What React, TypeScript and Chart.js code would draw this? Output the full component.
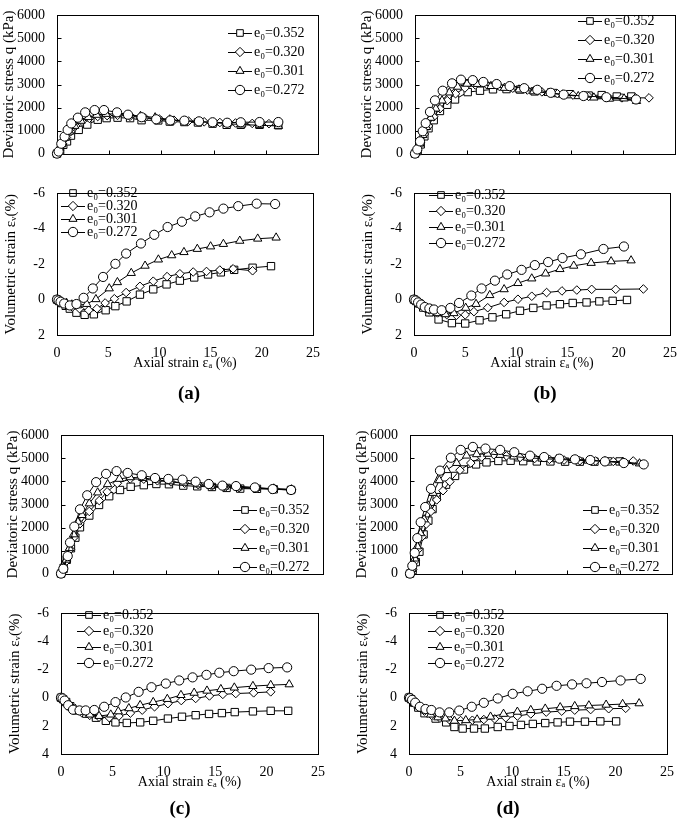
import React, { useEffect, useRef } from "react";
import { Chart, registerables } from "chart.js";

Chart.register(...registerables);

type Pt = [number, number];

// ---------------- data ----------------
const SERIES_LABELS = ["e₀=0.352", "e₀=0.320", "e₀=0.301", "e₀=0.272"];
const X_MIN = 0;
const X_MAX = 25;
const X_STEP = 5;
const Q_MIN = 0;
const Q_MAX = 6000;
const Q_STEP = 1000;
const V_MIN = -6;
const V_STEP = 2;
const X_INNER_TICKS = [5, 10, 15, 20];
const Q_INNER_TICKS = [1000, 2000, 3000, 4000, 5000];

const Q_TITLE = "Deviatoric stress q (kPa)";
const V_TITLE = "Volumetric strain εᵥ(%)";
const X_TITLE = "Axial strain εₐ (%)";
const PANEL_LABELS = ["(a)", "(b)", "(c)", "(d)"];

// (a)
const aQ352: Pt[] = [[0,0],[0.3,130],[0.6,380],[0.96,530],[1.34,780],[2.08,1030],[2.9,1260],[3.9,1470],[4.75,1540],[5.8,1560],[7.0,1540],[8.1,1450],[9.7,1440],[10.8,1390],[12.2,1370],[13.5,1350],[14.9,1300],[16.25,1250],[17.6,1250],[19.4,1250],[21.2,1230]];
const aQ320: Pt[] = [[0,0],[0.25,150],[0.55,420],[0.9,700],[1.3,950],[1.8,1200],[2.4,1400],[3.1,1530],[3.9,1610],[4.8,1650],[5.8,1660],[7.0,1620],[8.4,1560],[9.8,1500],[11.2,1450],[12.6,1410],[14.1,1380],[15.6,1350],[17.1,1330],[18.7,1310],[20.3,1300]];
const aQ301: Pt[] = [[0,0],[0.2,120],[0.45,400],[0.8,680],[1.2,950],[1.7,1200],[2.3,1420],[3.0,1580],[3.8,1680],[4.7,1720],[5.7,1720],[6.9,1680],[8.0,1630],[9.4,1570],[10.8,1480],[12.2,1420],[13.6,1380],[15.0,1340],[16.3,1300],[17.7,1260],[19.4,1230],[21.2,1200]];
const aQ272: Pt[] = [[0,0],[0.16,90],[0.41,430],[0.73,740],[1.02,1030],[1.37,1310],[2.0,1560],[2.7,1790],[3.6,1890],[4.5,1890],[5.75,1790],[6.8,1690],[8.1,1580],[9.5,1490],[10.85,1440],[12.2,1430],[13.6,1400],[14.9,1360],[16.3,1340],[17.6,1360],[19.4,1370],[21.2,1370]];
const aV352: Pt[] = [[0,0],[0.2,0.08],[0.5,0.2],[0.85,0.35],[1.25,0.51],[1.9,0.74],[2.7,0.86],[3.6,0.83],[4.75,0.6],[5.7,0.37],[6.8,0.1],[8.1,-0.28],[9.4,-0.58],[10.7,-0.86],[12.0,-1.07],[13.4,-1.25],[14.75,-1.42],[16.0,-1.54],[17.3,-1.68],[19.1,-1.8],[20.9,-1.89]];
const aV320: Pt[] = [[0,0],[0.2,0.08],[0.5,0.18],[0.9,0.3],[1.5,0.42],[2.2,0.51],[3.1,0.6],[3.9,0.51],[4.7,0.19],[5.6,-0.05],[6.75,-0.4],[8.1,-0.75],[9.4,-1.04],[10.75,-1.3],[12.0,-1.46],[13.3,-1.56],[14.6,-1.59],[15.9,-1.67],[17.2,-1.74],[19.1,-1.63]];
const aV301: Pt[] = [[0,0],[0.2,0.07],[0.5,0.14],[0.93,0.19],[1.45,0.28],[2.0,0.33],[2.9,0.25],[3.8,-0.02],[5.1,-0.63],[5.9,-0.98],[7.25,-1.5],[8.6,-1.91],[9.9,-2.26],[11.2,-2.5],[12.4,-2.68],[13.7,-2.86],[15.0,-3.0],[16.25,-3.14],[17.85,-3.32],[19.6,-3.44],[21.4,-3.5]];
const aV272: Pt[] = [[0,0],[0.15,0.05],[0.35,0.12],[0.7,0.22],[1.25,0.33],[1.9,0.25],[2.6,-0.1],[3.5,-0.63],[4.5,-1.28],[5.7,-2.02],[6.75,-2.6],[8.2,-3.17],[9.5,-3.66],[10.8,-4.1],[12.2,-4.4],[13.5,-4.7],[14.9,-4.93],[16.25,-5.14],[17.7,-5.28],[19.5,-5.42],[21.3,-5.4]];

// (b)
const bQ352: Pt[] = [[0,0],[0.25,110],[0.55,400],[0.9,750],[1.3,1100],[1.8,1450],[2.4,1850],[3.1,2120],[3.85,2350],[5.07,2670],[6.25,2730],[7.5,2790],[8.8,2800],[10.1,2780],[11.5,2700],[13.3,2630],[14.9,2580],[16.7,2520],[17.95,2540],[19.4,2480],[20.8,2480]];
const bQ320: Pt[] = [[0,0],[0.25,150],[0.55,500],[0.9,850],[1.3,1200],[1.8,1600],[2.4,1950],[3.1,2300],[3.9,2600],[4.8,2850],[5.8,2980],[6.9,2990],[8.1,2920],[9.4,2840],[10.8,2760],[12.2,2680],[13.7,2600],[15.2,2540],[16.7,2480],[18.3,2440],[19.9,2420],[21.2,2420],[22.5,2420]];
const bQ301: Pt[] = [[0,0],[0.2,120],[0.45,430],[0.75,800],[1.1,1150],[1.5,1550],[2.0,1950],[2.6,2300],[3.3,2650],[4.1,2900],[5.0,3030],[6.0,3020],[7.3,2930],[8.6,2850],[10.0,2780],[11.4,2700],[12.8,2630],[14.2,2560],[15.7,2490],[17.2,2430],[18.7,2380],[20.1,2390],[21.3,2280]];
const bQ272: Pt[] = [[0,0],[0.22,180],[0.48,530],[0.74,970],[1.03,1320],[1.44,1810],[1.92,2310],[2.66,2730],[3.56,3050],[4.42,3210],[5.55,3190],[6.57,3110],[7.85,3020],[9.1,2930],[10.5,2840],[11.76,2770],[13.05,2640],[14.3,2560],[16.2,2500],[18.4,2450],[21.25,2350]];
const bV352: Pt[] = [[0,0],[0.2,0.08],[0.5,0.22],[0.9,0.45],[1.5,0.72],[2.4,1.12],[3.7,1.33],[5.0,1.35],[6.4,1.17],[7.66,1.0],[9.0,0.83],[10.35,0.63],[11.65,0.47],[12.95,0.33],[14.25,0.26],[15.5,0.19],[16.85,0.16],[18.1,0.1],[19.4,0.07],[20.8,0.02]];
const bV320: Pt[] = [[0,0],[0.2,0.08],[0.5,0.2],[0.9,0.38],[1.5,0.58],[2.3,0.75],[3.2,0.85],[4.15,0.89],[5.0,0.86],[5.85,0.68],[7.2,0.46],[8.8,0.16],[10.15,-0.02],[11.5,-0.19],[12.95,-0.4],[14.45,-0.49],[15.9,-0.54],[17.35,-0.58],[19.7,-0.58],[22.4,-0.6]];
const bV301: Pt[] = [[0,0],[0.2,0.07],[0.5,0.18],[0.9,0.35],[1.47,0.6],[2.27,0.77],[3.07,0.83],[3.9,0.77],[5.05,0.47],[6.06,0.25],[7.4,-0.25],[8.8,-0.58],[10.15,-0.93],[11.5,-1.19],[12.85,-1.47],[14.25,-1.72],[15.6,-1.91],[17.3,-2.07],[19.25,-2.16],[21.2,-2.21]];
const bV272: Pt[] = [[0,0],[0.15,0.05],[0.4,0.16],[0.7,0.28],[1.05,0.42],[1.5,0.5],[1.95,0.56],[2.7,0.6],[3.55,0.47],[4.4,0.19],[5.6,-0.23],[6.6,-0.63],[7.9,-1.07],[9.1,-1.42],[10.5,-1.68],[11.8,-1.95],[13.1,-2.12],[14.5,-2.35],[16.3,-2.56],[18.5,-2.86],[20.5,-3.0]];

// (c)
const cQ352: Pt[] = [[0,0],[0.25,250],[0.55,600],[0.95,1100],[1.37,1560],[1.81,2010],[2.7,2520],[3.63,2980],[4.6,3360],[5.63,3630],[6.65,3770],[7.9,3840],[9.1,3890],[10.3,3880],[11.67,3820],[13.0,3790],[14.4,3760],[15.8,3720],[17.1,3690],[18.7,3680],[20.3,3660],[21.95,3630]];
const cQ320: Pt[] = [[0,0],[0.25,200],[0.55,550],[0.9,1050],[1.3,1600],[1.8,2160],[2.7,2700],[3.65,3170],[4.4,3550],[5.37,3920],[6.6,4110],[7.9,4100],[9.2,4030],[10.5,3980],[11.8,3920],[13.1,3860],[14.4,3800],[15.7,3760],[17.0,3730],[18.7,3700],[20.4,3680],[22.0,3650]];
const cQ301: Pt[] = [[0,0],[0.2,150],[0.5,600],[0.8,1100],[1.2,1700],[1.6,2250],[2.0,2540],[2.7,3045],[3.5,3520],[4.45,3880],[5.57,4110],[6.6,4180],[7.8,4150],[9.1,4080],[10.4,4000],[11.7,3940],[13.0,3870],[14.3,3810],[15.6,3770],[16.9,3740],[18.6,3720],[20.3,3690],[22.0,3650]];
const cQ272: Pt[] = [[0,0],[0.22,210],[0.64,760],[0.86,1350],[1.27,2040],[1.81,2790],[2.5,3400],[3.35,3970],[4.3,4330],[5.3,4450],[6.36,4370],[7.7,4270],[8.97,4150],[10.24,4110],[11.6,4080],[12.85,3990],[14.1,3890],[15.4,3820],[16.7,3800],[18.5,3740],[20.2,3670],[21.95,3630]];
const cV352: Pt[] = [[0,0],[0.2,0.1],[0.5,0.3],[0.9,0.6],[1.5,0.9],[2.45,1.13],[3.4,1.42],[4.36,1.64],[5.3,1.75],[6.4,1.79],[7.7,1.75],[8.97,1.64],[10.4,1.48],[11.77,1.35],[13.1,1.24],[14.4,1.15],[15.65,1.09],[16.9,1.02],[18.67,0.97],[20.4,0.93],[22.1,0.93]];
const cV320: Pt[] = [[0,0],[0.2,0.1],[0.5,0.3],[0.9,0.55],[1.4,0.85],[2.0,1.05],[2.8,1.25],[3.7,1.38],[4.7,1.42],[5.63,1.3],[6.75,1.09],[7.9,0.88],[9.1,0.64],[10.4,0.42],[11.7,0.2],[13.1,0.05],[14.44,-0.13],[15.74,-0.24],[17.0,-0.3],[18.74,-0.35],[20.4,-0.42]];
const cV301: Pt[] = [[0,0],[0.2,0.1],[0.5,0.3],[0.9,0.55],[1.4,0.8],[2.0,1.0],[2.8,1.2],[3.7,1.3],[4.84,1.2],[5.57,0.97],[6.6,0.75],[7.7,0.53],[8.97,0.31],[10.34,0.09],[11.67,-0.19],[12.95,-0.35],[14.2,-0.5],[15.55,-0.61],[16.86,-0.72],[18.67,-0.83],[20.4,-0.9],[22.2,-0.95]];
const cV272: Pt[] = [[0,0],[0.15,0.05],[0.35,0.2],[0.7,0.53],[1.17,0.85],[1.8,0.9],[2.4,0.9],[3.24,0.87],[4.2,0.64],[5.3,0.31],[6.3,-0.02],[7.55,-0.42],[8.8,-0.75],[10.2,-1.01],[11.5,-1.23],[12.8,-1.45],[14.15,-1.63],[15.4,-1.78],[16.8,-1.89],[18.5,-2.0],[20.2,-2.11],[22.0,-2.16]];

// (d)
const dQ352: Pt[] = [[0,0],[0.25,150],[0.55,500],[0.9,950],[1.3,1700],[1.75,2300],[2.15,2800],[2.55,3320],[3.44,3860],[4.3,4240],[5.15,4520],[6.3,4740],[7.3,4830],[8.43,4890],[9.6,4900],[10.8,4880],[12.1,4870],[13.4,4870],[14.8,4860],[16.2,4860],[17.6,4860],[18.9,4870],[20.0,4870]];
const dQ320: Pt[] = [[0,0],[0.25,180],[0.5,550],[0.8,1050],[1.15,1600],[1.55,2150],[2.0,2700],[2.55,3200],[3.15,3600],[3.8,3990],[4.77,4490],[5.8,4800],[6.84,5060],[8.0,5160],[9.2,5110],[10.5,5040],[11.9,5000],[13.3,4960],[14.7,4930],[16.2,4900],[17.7,4890],[19.4,4870],[21.3,4890]];
const dQ301: Pt[] = [[0,0],[0.2,200],[0.45,650],[0.7,1180],[1.0,1750],[1.35,2350],[1.75,2950],[2.2,3500],[2.8,4050],[3.5,4490],[4.45,4800],[5.4,5120],[6.36,5180],[7.4,5200],[8.6,5150],[9.9,5080],[11.2,5030],[12.6,4990],[14.0,4960],[15.5,4930],[17.0,4900],[18.6,4880],[20.3,4850],[21.9,4780]];
const dQ272: Pt[] = [[0,0],[0.22,340],[0.45,900],[0.7,1540],[1.02,2230],[1.45,2890],[2.0,3680],[2.86,4470],[3.9,5030],[4.84,5370],[6.0,5500],[7.2,5430],[8.6,5370],[9.95,5270],[11.45,5120],[12.8,5060],[14.25,4990],[15.74,4960],[17.2,4930],[18.6,4870],[20.4,4800],[22.3,4740]];
const dV352: Pt[] = [[0,0],[0.2,0.1],[0.5,0.35],[0.9,0.7],[1.5,1.1],[2.58,1.48],[3.6,1.75],[4.4,2.08],[5.2,2.19],[6.3,2.19],[7.35,2.19],[8.6,2.08],[9.73,2.01],[10.85,1.93],[12.0,1.86],[13.2,1.8],[14.4,1.75],[15.6,1.7],[17.05,1.7],[18.54,1.68],[20.07,1.68]];
const dV320: Pt[] = [[0,0],[0.2,0.1],[0.5,0.3],[0.9,0.6],[1.5,0.95],[2.2,1.25],[3.0,1.45],[3.9,1.55],[5.0,1.62],[6.14,1.6],[7.25,1.55],[8.3,1.5],[9.38,1.42],[10.5,1.3],[11.8,1.15],[13.3,1.02],[14.8,0.95],[16.06,0.88],[17.6,0.84],[19.35,0.78],[21.0,0.75]];
const dV301: Pt[] = [[0,0],[0.2,0.1],[0.5,0.3],[0.9,0.6],[1.5,0.9],[2.1,1.2],[2.8,1.4],[3.53,1.48],[4.4,1.64],[5.5,1.6],[6.6,1.55],[7.9,1.35],[9.16,1.15],[10.5,1.0],[11.8,0.88],[13.2,0.78],[14.65,0.68],[16.06,0.6],[17.43,0.55],[19.1,0.5],[20.7,0.45],[22.3,0.4]];
const dV272: Pt[] = [[0,0],[0.1,0.03],[0.3,0.15],[0.6,0.35],[1.05,0.64],[1.6,0.8],[2.17,0.87],[2.96,1.04],[3.9,1.04],[4.87,0.91],[6.08,0.64],[7.25,0.36],[8.6,0.05],[10.05,-0.28],[11.5,-0.46],[12.9,-0.64],[14.3,-0.85],[15.8,-0.95],[17.2,-1.03],[18.7,-1.12],[20.5,-1.23],[22.45,-1.34]];

// ---------------- styles & layout ----------------
const FONT = '"Liberation Serif", "Times New Roman", Times, serif';
const MARKERS = ["rect", "rectRot", "triangle", "circle"] as const;
const RADII = [5.2, 4.3, 4.8, 4.6];
const AXIS_W = 57;
const PAD_T = 10;
const PAD_R = 12;
const LEG_FONT = 14;
const LEG_BOX_W = 14;

interface Spec {
  kind: "q" | "v";
  series: Pt[][];
  vMax?: number;
  L: number; T: number; R: number; B: number;
  legX: number; legY: number; legPad: number;
}

const SPECS: Spec[] = [
  { kind: "q", series: [aQ352, aQ320, aQ301, aQ272], L: 57, T: 5, R: 318, B: 164, legX: 228, legY: 33, legPad: 5 },
  { kind: "v", series: [aV352, aV320, aV301, aV272], vMax: 2, L: 57, T: 183, R: 318, B: 335, legX: 61, legY: 193, legPad: -1 },
  { kind: "q", series: [bQ352, bQ320, bQ301, bQ272], L: 415, T: 5, R: 675, B: 164, legX: 578, legY: 21, legPad: 5 },
  { kind: "v", series: [bV352, bV320, bV301, bV272], vMax: 2, L: 414, T: 183, R: 675, B: 335, legX: 429, legY: 195, legPad: 2 },
  { kind: "q", series: [cQ352, cQ320, cQ301, cQ272], L: 61, T: 425, R: 323, B: 584, legX: 233, legY: 510, legPad: 5 },
  { kind: "v", series: [cV352, cV320, cV301, cV272], vMax: 4, L: 61, T: 603, R: 323, B: 754, legX: 77, legY: 615, legPad: 2 },
  { kind: "q", series: [dQ352, dQ320, dQ301, dQ272], L: 410, T: 425, R: 672, B: 584, legX: 583, legY: 510, legPad: 5 },
  { kind: "v", series: [dV352, dV320, dV301, dV272], vMax: 4, L: 409, T: 603, R: 672, B: 754, legX: 428, legY: 615, legPad: 2 },
];

const LABEL_POS = [
  { x: 189, y: 393 },
  { x: 545, y: 393 },
  { x: 180, y: 808 },
  { x: 508, y: 808 },
];

function geometry(spec: Spec) {
  const xH = spec.kind === "q" ? 10 : 37;
  const left = spec.L - AXIS_W;
  const top = spec.T - PAD_T;
  const width = AXIS_W + (spec.R - spec.L) + PAD_R;
  const height = PAD_T + (spec.B - spec.T) + xH;
  return { xH, left, top, width, height };
}

function buildChart(canvas: HTMLCanvasElement, spec: Spec) {
  const g = geometry(spec);
  const isQ = spec.kind === "q";
  const font = { family: FONT, size: 14 };
  const titleFont = { family: FONT, size: 15 };
  const pad = spec.legPad;

  // places the legend inside the plot and draws the line segment of each legend symbol
  const legendMover = {
    id: "legendMover",
    beforeDraw(chart: any) {
      const lg = chart.legend;
      if (!lg) return;
      const x = spec.legX - g.left + 5;
      const y = spec.legY - g.top - LEG_FONT / 2;
      lg.left = x - pad;
      lg.top = y - pad;
      lg.width = 260;
      lg.height = 150;
      lg.right = lg.left + 260;
      lg.bottom = lg.top + 150;
      const ctx = chart.ctx;
      ctx.save();
      ctx.strokeStyle = "#000";
      ctx.lineWidth = 1;
      ctx.beginPath();
      SERIES_LABELS.forEach((_, i) => {
        const cy = Math.round(y + i * (LEG_FONT + pad) + LEG_FONT / 2) + 0.5;
        const cx = x + LEG_BOX_W / 2;
        ctx.moveTo(cx - 12, cy);
        ctx.lineTo(cx + 12, cy);
      });
      ctx.stroke();
      ctx.restore();
    },
  };

  const frame = {
    id: "frame",
    beforeDatasetsDraw(chart: any) {
      const { ctx, chartArea } = chart;
      const l = Math.round(chartArea.left) + 0.5;
      const t = Math.round(chartArea.top) + 0.5;
      const r = Math.round(chartArea.right) + 0.5;
      const b = Math.round(chartArea.bottom) + 0.5;
      ctx.save();
      ctx.strokeStyle = "#000";
      ctx.lineWidth = 1;
      ctx.strokeRect(l, t, r - l, b - t);
      if (isQ) {
        ctx.beginPath();
        X_INNER_TICKS.forEach((v) => {
          const px = Math.round(chart.scales.x.getPixelForValue(v)) + 0.5;
          ctx.moveTo(px, b);
          ctx.lineTo(px, b - 4);
        });
        Q_INNER_TICKS.forEach((v) => {
          const py = Math.round(chart.scales.y.getPixelForValue(v)) + 0.5;
          ctx.moveTo(l, py);
          ctx.lineTo(l + 4, py);
        });
        ctx.stroke();
      }
      ctx.restore();
    },
  };

  return new Chart(canvas, {
    type: "scatter",
    data: {
      datasets: spec.series.map((pts, i) => ({
        label: SERIES_LABELS[i],
        data: pts.map(([x, y]) => ({ x, y })),
        showLine: true,
        borderColor: "#000",
        borderWidth: 1,
        pointStyle: MARKERS[i],
        pointRadius: RADII[i],
        pointBackgroundColor: "#fff",
        pointBorderColor: "#000",
        pointBorderWidth: 1,
        clip: false,
        order: 3 - i,
      })),
    },
    options: {
      animation: false,
      responsive: false,
      maintainAspectRatio: false,
      events: [],
      layout: { padding: { top: PAD_T, right: PAD_R, bottom: 0, left: 0 } },
      scales: {
        x: {
          type: "linear",
          min: X_MIN,
          max: X_MAX,
          ticks: { stepSize: X_STEP, display: !isQ, padding: 10, font, color: "#000" },
          grid: { display: false, drawTicks: false },
          border: { display: false },
          title: { display: !isQ, text: X_TITLE, font, color: "#000", padding: { top: 0, bottom: 0 } },
          afterFit: (s: any) => { s.height = g.xH; },
        },
        y: {
          type: "linear",
          min: isQ ? Q_MIN : V_MIN,
          max: isQ ? Q_MAX : spec.vMax,
          reverse: !isQ,
          ticks: {
            stepSize: isQ ? Q_STEP : V_STEP,
            padding: 12,
            font,
            color: "#000",
            callback: (v: any) => String(v),
          },
          grid: { display: false, drawTicks: false },
          border: { display: false },
          title: {
            display: true,
            text: isQ ? Q_TITLE : V_TITLE,
            font: titleFont,
            color: "#000",
            padding: { top: isQ ? 0 : 2, bottom: 0 },
          },
          afterFit: (s: any) => { s.width = AXIS_W; },
        },
      },
      plugins: {
        tooltip: { enabled: false },
        legend: {
          display: true,
          position: "chartArea",
          fullSize: false,
          align: "start",
          labels: {
            usePointStyle: true,
            boxWidth: 16,
            boxHeight: 6.6,
            padding: pad,
            font: { family: FONT, size: LEG_FONT },
            color: "#000",
            generateLabels: () =>
              SERIES_LABELS.map((t, i) => ({
                text: t,
                pointStyle: MARKERS[i],
                fillStyle: "#fff",
                strokeStyle: "#000",
                lineWidth: 1,
                hidden: false,
                datasetIndex: i,
                fontColor: "#000",
              })),
          },
        },
      },
    } as any,
    plugins: [legendMover, frame],
  } as any);
}

function Panel({ spec }: { spec: Spec }) {
  const ref = useRef<HTMLCanvasElement>(null);
  const g = geometry(spec);
  useEffect(() => {
    const chart = buildChart(ref.current!, spec);
    return () => chart.destroy();
  }, []);
  return (
    <canvas
      ref={ref}
      width={g.width}
      height={g.height}
      style={{ position: "absolute", left: g.left, top: g.top, width: g.width, height: g.height }}
    />
  );
}

export default function App() {
  return (
    <div style={{ position: "absolute", left: 0, top: 0, width: 685, height: 819, background: "#fff", overflow: "hidden" }}>
      {SPECS.map((s, i) => (
        <Panel key={i} spec={s} />
      ))}
      {PANEL_LABELS.map((t, i) => (
        <div
          key={t}
          style={{
            position: "absolute",
            left: LABEL_POS[i].x - 30,
            top: LABEL_POS[i].y - 12,
            width: 60,
            height: 24,
            lineHeight: "24px",
            textAlign: "center",
            fontFamily: FONT,
            fontWeight: "bold",
            fontSize: 19,
            color: "#000",
          }}
        >
          {t}
        </div>
      ))}
    </div>
  );
}
